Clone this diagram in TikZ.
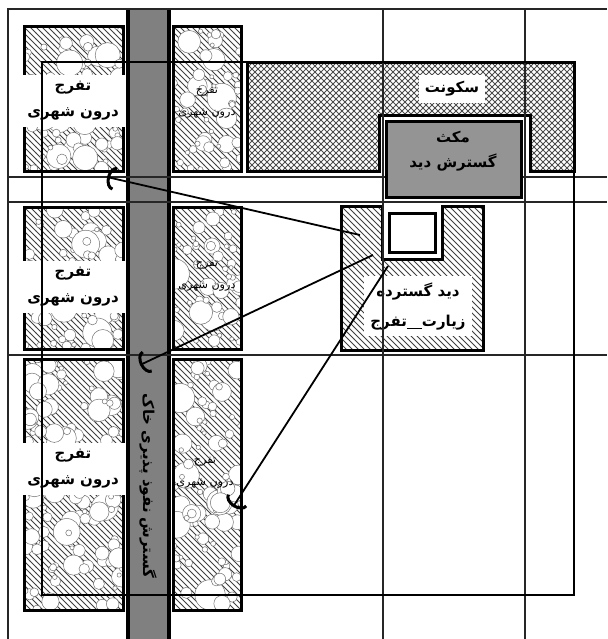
\documentclass[tikz,border=0pt]{standalone}
\usepackage{fontspec}
\usetikzlibrary{patterns,arrows.meta}
\newfontfamily\arabicfont[Script=Arabic]{DejaVu Sans}
\TeXXeTstate=1
\newcommand{\fa}[1]{\beginR #1\endR}

\begin{document}
\begin{tikzpicture}[x=0.5pt,y=-0.5pt,
  grid/.style={line width=0.6pt, black!85},
  zone/.style={line width=1.5pt},
  hatch/.style={pattern=north west lines, pattern color=black!75},
  bubble/.style={draw=black!55, fill=white, line width=0.25pt},
  bigtag/.style={fill=white, font=\arabicfont\bfseries\fontsize{7.5}{13}\selectfont, align=center, inner sep=3pt},
  smalltag/.style={font=\arabicfont\fontsize{5.6}{11}\selectfont, align=center, inner sep=1pt},
  link/.style={line width=0.9pt, -{Arc Barb[width=12pt,length=4pt,line width=1.5pt]}}]

\useasboundingbox (0,0) rectangle (607,639);

% park blocks: hatch, bubbles, frame
\pgfmathsetseed{12}
\foreach \bx/\by/\bw/\bh in {24/26/99/145, 24/207/99/142, 24/359/99/251, 173/26/68/145, 173/207/68/142, 173/359/68/251}{
  \fill[hatch] (\bx,\by) rectangle ++(\bw,\bh);
  \pgfmathtruncatemacro\nb{(\bw/10)*(\bh/20)}
  \begin{scope}
    \clip (\bx,\by) rectangle ++(\bw,\bh);
    \foreach \k in {1,...,\nb}{
      \pgfmathsetmacro\cx{\bx+\bw*rnd}
      \pgfmathsetmacro\cy{\by+\bh*rnd}
      \pgfmathsetmacro\cr{2+14*rnd*rnd}
      \draw[bubble] (\cx,\cy) circle[radius=\cr];
    }
  \end{scope}
  \draw[zone] (\bx,\by) rectangle ++(\bw,\bh);
}

% housing block with notch
\draw[zone, pattern=north east lines, pattern color=black!70, preaction={pattern=north west lines, pattern color=black!70}]
  (247,62) -- (574,62) -- (574,171) -- (530,171) -- (530,115) -- (379,115) -- (379,171) -- (247,171) -- cycle;

% view block with notch
\draw[zone, hatch] (341,206) -- (382,206) -- (382,259) -- (442,259) -- (442,206) -- (483,206) -- (483,350) -- (341,350) -- cycle;

% soil band
\fill[black!50] (127,9) rectangle (170,639);
\draw[line width=1.8pt] (128,9) -- (128,639) (169,9) -- (169,639);

% labels
\node[bigtag] (park1) at (73,101) {\fa{تفرج}\\\fa{درون شهری}};
\node[bigtag] (park2) at (73,287) {\fa{تفرج}\\\fa{درون شهری}};
\node[bigtag] (park3) at (73,469) {\fa{تفرج}\\\fa{درون شهری}};
\node[smalltag] (park4) at (207,103) {\fa{تفرج}\\\fa{درون شهری}};
\node[smalltag] (park5) at (207,276) {\fa{تفرج}\\\fa{درون شهری}};
\node[smalltag] (park6) at (205,473) {\fa{تفرج}\\\fa{درون شهری}};
\node[bigtag] (home) at (452,89) {\fa{سکونت}};
\node[bigtag, font=\arabicfont\bfseries\fontsize{7.5}{15}\selectfont] (view) at (418,306) {\fa{دید گسترده}\\\fa{زیارت\rule[-0.4ex]{1em}{0.6pt}تفرج}};
\node[rotate=-90, font=\arabicfont\bfseries\fontsize{7.5}{9}\selectfont] (soil) at (148,486) {\fa{گسترش نفوذ پذیری خاک}};

% grid and site outline
\draw[grid] (8,639) -- (8,9) -- (607,9);
\draw[grid] (8,177) -- (607,177) (8,202) -- (607,202) (8,355) -- (607,355);
\draw[grid] (383,9) -- (383,639) (525,9) -- (525,639);
\draw[line width=1.2pt] (42,62) rectangle (574,595);

% pause box and open square
\draw[zone, fill=black!42] (386,121) rectangle (521,197);
\node[font=\arabicfont\bfseries\fontsize{7.5}{12.5}\selectfont, align=center] (pause) at (453,151) {\fa{مکث}\\\fa{گسترش دید}};
\draw[zone, fill=white] (389,213) rectangle (435,252);

% view lines
\coordinate (v1) at (360,235);
\coordinate (v2) at (373,255);
\coordinate (v3) at (388,266);
\coordinate (e1) at (107,177);
\coordinate (e2) at (140,365);
\coordinate (e3) at (233,507);
\draw[link] (v1) -- (e1);
\draw[link] (v2) -- (e2);
\draw[link] (v3) -- (e3);
\end{tikzpicture}
\end{document}
